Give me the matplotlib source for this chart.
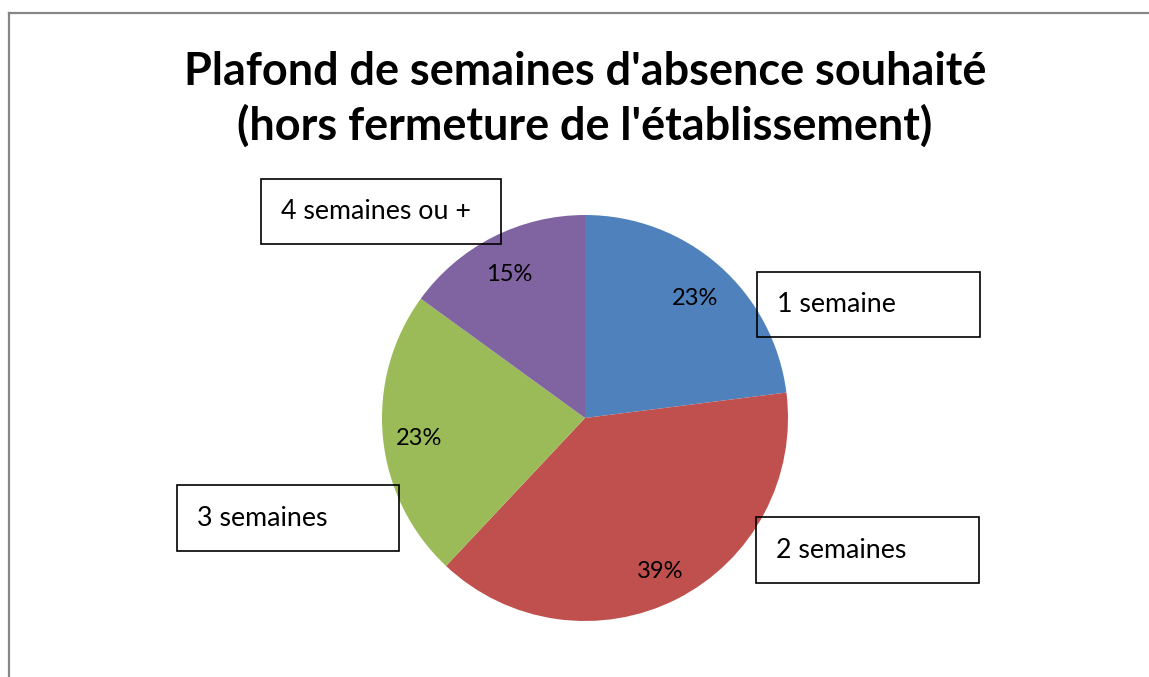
import matplotlib
matplotlib.use("Agg")
import matplotlib.pyplot as plt
import matplotlib.transforms as mtransforms
from matplotlib.patches import Rectangle
from matplotlib.lines import Line2D

# chart data
categories = ["1 semaine", "2 semaines", "3 semaines", "4 semaines ou +"]
shares = [23, 39, 23, 15]
colors = ["#4F81BD", "#C0504D", "#9BBB59", "#8064A2"]
title = "Plafond de semaines d'absence souhaité\n(hors fermeture de l'établissement)"

W, H = 1149, 677
fig = plt.figure(figsize=(W / 100, H / 100), dpi=100)
plt.rcParams['font.family'] = ['Lato', 'DejaVu Sans']

def px(x, y):
    # pixel (top-left origin) -> figure fraction
    return x / W, 1 - y / H

# chart border (only top and left visible in the crop)
fig.add_artist(Line2D([8.5 / W, 1], [1 - 12.5 / H] * 2, color="#868686", lw=1.6))
fig.add_artist(Line2D([8.5 / W] * 2, [0, 1 - 12.5 / H], color="#868686", lw=1.6))

fig.text(585 / W, 1 - 99 / H, title, ha="center", va="center",
         fontsize=32.4, fontweight="bold", linespacing=1.32)

# pie: centre (585, 418), radius 203 px
cx, cy, r = 585, 418, 203
ax = fig.add_axes([(cx - r) / W, 1 - (cy + r) / H, 2 * r / W, 2 * r / H])
wedges, labels, pcts = ax.pie(shares, colors=colors, startangle=90, counterclock=False,
                              autopct=lambda p: f"{p:.0f}%", pctdistance=0.82,
                              textprops=dict(fontsize=17, color="black"))
# nudge the percentages down a few pixels
shift = mtransforms.ScaledTranslation(0, -5 / 100, fig.dpi_scale_trans)
for t in pcts:
    t.set_transform(t.get_transform() + shift)
ax.set_xlim(-1, 1)
ax.set_ylim(-1, 1)
ax.set_aspect("equal")
ax.axis("off")

# label boxes (left, top, right, bottom in px)
boxes = [(757, 272, 980, 337), (756, 517, 979, 583),
         (177, 485, 399, 551), (261, 179, 501, 244)]
for name, (x0, y0, x1, y1) in zip(categories, boxes):
    fig.add_artist(Rectangle(px(x0, y1), (x1 - x0) / W, (y1 - y0) / H,
                             transform=fig.transFigure, fill=False,
                             edgecolor="black", lw=1.2))
    fig.text((x0 + 20) / W, 1 - ((y0 + y1) / 2) / H, name,
             ha="left", va="center", fontsize=19.3)

fig.savefig("out.png", dpi=100)
